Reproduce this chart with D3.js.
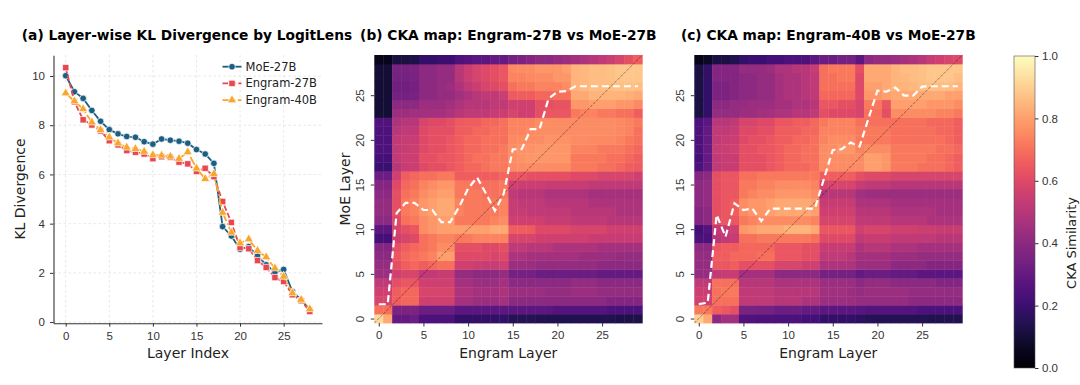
<!DOCTYPE html>
<html><head><meta charset="utf-8">
<script src="https://cdn.jsdelivr.net/npm/d3@7"></script>
<style>
body{margin:0;background:#fff;}
svg{font-family:"DejaVu Sans",sans-serif;}
.tick text{fill:#333;font-size:11.5px;}
.tick line,.domain{stroke:#333;}
</style></head><body>
<script>
// ---- panel (a): KL divergence per layer ----
var layerIdx=[0,1,2,3,4,5,6,7,8,9,10,11,12,13,14,15,16,17,18,19,20,21,22,23,24,25,26,27,28];
var klMoe27=[10.01,9.36,9.09,8.6,8.16,7.82,7.65,7.54,7.51,7.33,7.23,7.44,7.39,7.35,7.27,7.01,6.83,6.45,3.88,3.5,2.96,3.07,2.69,2.33,2.03,2.14,1.24,0.91,0.5];
var klEng27=[10.34,8.95,8.22,8.01,7.77,7.37,7.2,6.97,6.9,6.83,6.64,6.72,6.7,6.5,6.43,6.12,6.25,5.91,4.9,4.05,3.03,2.98,2.5,2.22,1.81,1.65,1.11,0.87,0.43];
var klEng40=[9.3,8.98,8.66,8.12,7.81,7.51,7.27,7.1,7.04,6.93,6.79,6.77,6.73,6.64,6.91,6.25,5.82,6.02,4.45,3.64,3.21,3.37,2.9,2.64,2.19,1.85,1.18,0.91,0.53];
var seriesNames=['MoE-27B','Engram-27B','Engram-40B'];
var klTicksX=[0,5,10,15,20,25];
var klTicksY=[0,2,4,6,8,10];
// ---- panels (b),(c): CKA maps in percent; row = MoE layer 0..29 (bottom->top), col = Engram layer 0..29 ----
var ckaEng27=[
[92,82,30,30,32,24,24,24,24,18,18,18,18,18,18,15,15,15,14,14,14,14,14,14,14,14,14,13,13,13],
[70,70,36,36,36,32,32,32,32,28,28,28,28,28,28,28,28,28,28,28,26,26,26,26,26,26,24,24,24,24],
[58,58,66,68,68,56,56,56,56,46,46,44,44,44,46,40,40,40,40,40,40,40,40,40,40,40,38,38,38,38],
[56,56,66,68,68,58,58,58,58,48,48,46,46,46,48,44,44,44,44,42,42,42,44,44,44,42,42,42,42,42],
[52,52,62,64,64,56,56,56,56,46,46,44,44,44,46,40,40,40,40,40,40,40,42,42,42,40,40,40,40,40],
[44,44,56,58,58,52,52,54,54,42,42,40,40,40,42,34,34,34,32,32,32,32,32,32,32,30,30,30,30,30],
[42,42,62,66,68,66,68,70,70,56,56,55,54,54,56,44,44,44,42,42,42,42,42,42,42,40,40,40,40,40],
[40,40,64,68,70,72,74,80,80,60,60,60,60,58,60,48,48,46,46,46,46,46,46,44,44,44,44,42,42,42],
[38,38,62,66,68,70,72,76,76,62,62,62,60,60,62,52,52,50,50,50,48,48,48,48,48,46,46,46,46,46],
[22,22,56,58,60,70,72,74,74,72,72,74,74,74,74,58,58,58,56,56,56,56,56,56,54,54,54,54,54,54],
[28,28,58,62,64,76,78,80,80,80,80,80,80,82,82,66,66,65,60,60,60,60,58,58,58,58,56,56,56,56],
[40,40,60,70,72,76,78,80,80,72,72,72,72,74,76,56,56,56,56,54,54,54,52,52,52,52,50,50,50,50],
[42,42,62,72,74,78,80,82,82,74,72,72,72,72,74,54,54,52,52,52,52,52,50,50,50,50,50,48,48,48],
[42,42,62,72,74,78,80,82,82,74,72,72,72,72,74,54,52,52,52,50,50,50,50,50,48,48,48,48,48,48],
[40,40,62,70,72,76,78,80,80,72,72,72,70,70,72,52,50,50,50,48,48,48,48,48,46,46,46,46,46,46],
[38,38,60,68,70,74,76,78,78,72,72,70,70,70,72,56,55,55,55,54,54,54,54,54,52,52,52,52,52,52],
[32,32,56,66,68,70,70,72,72,66,66,66,66,66,68,64,64,62,62,62,62,62,60,60,60,58,58,58,58,56],
[20,20,50,54,55,60,62,62,64,66,68,68,70,72,72,75,76,76,76,76,76,76,72,72,72,70,70,68,66,65],
[22,22,52,55,55,62,62,64,64,66,68,70,70,72,72,76,77,78,78,78,78,78,72,72,72,72,70,70,68,66],
[24,24,52,54,55,60,62,62,64,66,68,68,70,70,72,76,77,77,78,78,78,78,74,74,74,72,72,72,70,68],
[24,24,52,54,54,60,62,62,64,66,68,68,70,70,70,75,76,76,76,77,77,77,76,76,75,75,75,74,72,70],
[24,24,50,52,52,60,62,62,62,66,66,68,68,70,70,74,74,75,76,76,76,76,76,76,76,76,76,75,74,70],
[25,25,48,50,50,58,60,60,62,65,66,66,68,68,70,74,74,74,76,76,76,76,76,76,76,76,76,75,74,72],
[10,10,44,44,45,45,46,46,48,50,52,52,52,54,55,58,56,56,62,64,64,64,72,74,74,72,72,70,70,66],
[10,10,40,40,40,44,44,44,45,48,50,50,50,52,52,56,56,56,62,62,63,63,78,78,80,80,80,78,78,75],
[10,10,34,34,35,40,40,42,42,45,48,50,52,52,55,65,66,66,68,68,70,70,82,82,84,84,84,84,83,82],
[10,10,33,33,34,40,40,42,44,48,52,55,58,60,62,70,72,72,74,74,74,76,84,85,86,86,86,87,87,86],
[10,10,34,34,35,40,40,42,42,50,55,58,60,62,64,74,74,75,76,76,78,78,84,85,86,86,87,88,88,88],
[10,10,35,35,36,40,40,42,42,50,55,58,60,62,64,75,76,76,78,78,78,80,84,85,86,86,87,88,88,88],
[5,5,12,12,13,18,18,20,20,24,26,28,28,30,30,34,36,38,40,40,42,44,46,48,50,52,55,58,62,66]];
var ckaEng40=[
[90,82,40,45,45,25,25,24,24,24,24,24,22,22,18,18,18,18,17,16,15,15,15,15,15,15,14,14,14,14],
[72,72,66,64,62,35,35,34,34,32,32,32,30,30,28,28,28,28,27,26,26,26,26,26,26,24,24,24,24,24],
[56,56,70,70,70,52,52,52,52,50,50,50,48,48,44,44,44,44,42,42,42,42,42,42,40,40,40,40,40,40],
[55,55,70,72,72,52,52,52,52,50,50,50,50,50,45,45,45,44,42,44,44,44,44,44,42,42,42,42,42,42],
[52,52,70,70,70,50,50,50,50,48,48,48,48,48,44,44,44,44,40,42,42,42,40,40,40,40,40,38,38,38],
[42,42,52,54,54,46,46,46,46,40,40,40,40,40,34,34,34,34,30,32,32,32,30,30,30,28,28,28,28,28],
[42,42,64,64,66,62,62,62,62,58,58,58,56,56,48,48,48,48,44,44,44,44,40,40,40,40,38,38,38,38],
[42,42,66,66,68,68,68,70,70,64,64,64,62,62,52,52,52,50,46,46,46,46,44,44,44,42,42,42,42,42],
[40,40,64,66,66,68,68,68,68,64,64,64,62,62,54,54,54,54,48,50,50,50,48,48,48,46,46,46,46,46],
[24,24,50,52,54,70,70,72,72,72,72,72,72,70,60,60,60,60,52,54,54,54,52,52,52,52,52,50,50,50],
[22,26,52,54,56,78,80,82,82,82,84,84,84,82,64,64,64,64,56,58,58,58,56,56,56,55,55,54,54,54],
[38,40,62,64,64,72,74,76,76,76,76,76,76,74,58,58,58,58,52,52,52,52,50,50,50,50,48,48,48,48],
[38,40,62,64,66,76,78,78,80,82,82,82,82,80,56,56,56,56,50,50,50,50,48,48,48,48,48,46,46,46],
[40,42,62,64,66,76,78,78,80,82,82,82,82,80,54,54,54,54,48,48,48,48,46,46,46,46,46,46,46,46],
[40,42,62,64,64,72,74,76,76,78,78,78,78,76,50,50,50,50,45,44,44,44,44,44,44,44,44,44,44,44],
[40,42,62,64,64,72,72,74,74,76,76,76,76,74,58,58,58,58,54,52,52,52,50,50,50,50,50,50,50,50],
[38,40,62,64,64,70,70,72,72,72,72,72,72,72,66,66,66,66,62,60,60,60,58,58,58,58,58,58,58,58],
[24,30,52,54,54,62,62,62,64,66,68,68,68,70,76,76,76,76,76,80,80,78,72,72,72,70,70,70,68,66],
[22,30,52,54,54,62,62,62,64,66,68,68,70,70,76,76,76,76,76,80,80,78,72,72,72,72,70,70,68,66],
[24,30,54,55,56,62,62,64,64,66,68,68,70,70,76,76,78,78,74,76,76,76,72,72,72,72,72,70,70,68],
[24,30,52,54,55,60,62,62,64,66,66,68,68,70,74,76,76,76,72,72,72,72,70,70,70,70,70,70,68,66],
[24,30,52,52,54,60,60,62,62,66,66,66,68,68,74,74,74,74,72,72,72,72,70,70,70,70,70,68,68,66],
[24,28,50,50,52,58,58,60,60,64,64,66,66,68,72,74,74,74,70,70,70,70,70,70,70,70,68,68,68,66],
[12,18,42,42,42,44,44,45,46,48,48,50,50,52,62,60,60,60,58,70,70,62,76,76,76,76,76,74,74,72],
[12,18,40,40,42,42,44,44,44,46,46,48,48,50,64,64,62,62,58,72,72,64,80,80,80,80,78,78,78,76],
[12,18,36,36,38,40,40,42,42,46,48,48,50,52,68,68,68,68,60,78,78,80,82,82,82,82,82,82,80,80],
[12,18,36,36,38,40,40,42,42,46,48,48,50,52,70,70,70,70,60,80,80,82,84,84,85,86,86,86,86,84],
[12,18,38,38,38,40,40,42,42,46,48,48,50,52,70,70,72,72,60,82,82,82,84,85,86,87,88,88,88,86],
[12,18,38,38,38,42,42,42,44,48,48,50,50,54,70,72,72,72,62,82,82,82,84,86,86,87,88,88,88,88],
[5,7,12,12,14,18,20,20,22,22,24,24,24,28,32,32,34,34,28,40,42,42,44,46,48,50,54,56,58,60]];
// best-matching MoE layer for each Engram layer (white dashed path)
var pathEng27=[1.6,1.6,11.8,12.95,12.95,12.15,12.15,10.8,10.8,12.5,14.55,15.8,14.0,12.05,14.0,18.95,18.95,21.2,21.2,24.6,25.4,25.45,26,26,26,26,26,26,26,26];
var pathEng40=[1.62,1.77,11.6,9.16,12.9,12.15,12.3,10.9,12.3,12.3,12.3,12.3,12.3,12.3,15.6,18.87,18.95,19.7,19.25,22.4,25.5,25.4,25.85,24.95,24.95,25.96,26,26,26,26];
var ckaTicks=[0,5,10,15,20,25];
var cbarTicks=[0,0.2,0.4,0.6,0.8,1.0];

var wid=1080, hgh=385;
var svg=d3.select('body').append('svg').attr('width',wid).attr('height',hgh);

// ===== panel (a) =====
var ax=d3.scaleLinear().domain([-1.4,29.4]).range([53.5,322]);
var ay=d3.scaleLinear().domain([-0.045,10.845]).range([323.2,55.2]);
var ga=svg.append('g');
// grid
ga.selectAll('line.gx').data(klTicksX).enter().append('line')
  .attr('x1',d=>ax(d)).attr('x2',d=>ax(d)).attr('y1',55).attr('y2',323.2)
  .attr('stroke','#d6d6d6').attr('stroke-width',0.6).attr('stroke-dasharray','2.5,2.5');
ga.selectAll('line.gy').data(klTicksY).enter().append('line')
  .attr('x1',53.5).attr('x2',322).attr('y1',d=>ay(d)).attr('y2',d=>ay(d))
  .attr('stroke','#d6d6d6').attr('stroke-width',0.6).attr('stroke-dasharray','2.5,2.5');
ga.append('g').attr('transform','translate(0,323.2)')
  .call(d3.axisBottom(ax).tickValues(klTicksX).tickSize(3.5).tickPadding(5.5).tickSizeOuter(0));
ga.append('g').attr('transform','translate(53.5,0)')
  .call(d3.axisLeft(ay).tickValues(klTicksY).tickSize(3.5).tickPadding(5).tickSizeOuter(0));
ga.selectAll('.domain').attr('stroke-width',1.1);

var series=[
 {name:seriesNames[0],vals:klMoe27,color:'#1b5e84',dash:null,sym:d3.symbolCircle,size:34},
 {name:seriesNames[1],vals:klEng27,color:'#e8474f',dash:'5.5,2.4',sym:d3.symbolSquare,size:40},
 {name:seriesNames[2],vals:klEng40,color:'#f9a62c',dash:'9,2.4,1.5,2.4',sym:d3.symbolTriangle,size:36}];
var line=d3.line().x((d,i)=>ax(layerIdx[i])).y(d=>ay(d));
series.forEach(function(s){
 ga.append('path').attr('d',line(s.vals)).attr('fill','none').attr('stroke',s.color)
   .attr('stroke-width',1.8).attr('stroke-dasharray',s.dash);
 ga.selectAll(null).data(s.vals).enter().append('path')
   .attr('d',d3.symbol().type(s.sym).size(s.size))
   .attr('transform',(d,i)=>'translate('+ax(layerIdx[i])+','+ay(d)+')')
   .attr('fill',s.color).attr('stroke','#fff').attr('stroke-width',0.7);
});
// legend
series.forEach(function(s,i){
 var ly=66.7+i*16.7;
 ga.append('line').attr('x1',222.5).attr('x2',241.5).attr('y1',ly).attr('y2',ly)
   .attr('stroke',s.color).attr('stroke-width',1.8).attr('stroke-dasharray',s.dash);
 ga.append('path').attr('d',d3.symbol().type(s.sym).size(s.size)())
   .attr('transform','translate(232,'+ly+')').attr('fill',s.color).attr('stroke','#fff').attr('stroke-width',0.7);
 ga.append('text').attr('x',245.5).attr('y',ly+4).attr('font-size',11.5).attr('fill','#222').text(s.name);
});
ga.append('text').attr('x',188).attr('y',358).attr('text-anchor','middle').attr('font-size',14).attr('fill','#222').text('Layer Index');
ga.append('text').attr('transform','translate(25,189) rotate(-90)').attr('text-anchor','middle').attr('font-size',14).attr('fill','#222').text('KL Divergence');
ga.append('text').attr('x',187).attr('y',39.5).attr('text-anchor','middle').attr('font-size',13.75).attr('font-weight','bold').attr('fill','#000')
  .text('(a) Layer-wise KL Divergence by LogitLens');

// ===== panels (b),(c) =====
var color=d3.interpolateMagma;
function drawcka(x0,mat,path,title,showYLabel) {
 var g=svg.append('g');
 var hx=d3.scaleLinear().domain([-0.5,29.5]).range([x0,x0+268]);
 var hy=d3.scaleLinear().domain([-0.5,29.5]).range([323,55]);
 var cw=hx(1)-hx(0);
 mat.forEach(function(row,r){
  g.selectAll(null).data(row).enter().append('rect')
   .attr('x',(d,c)=>hx(c-0.5)).attr('y',hy(r+0.5)).attr('width',cw+0.4).attr('height',cw+0.4)
   .attr('fill',d=>color(d/100));
 });
 g.append('line').attr('x1',hx(-0.5)).attr('y1',hy(-0.5)).attr('x2',hx(29.5)).attr('y2',hy(29.5))
  .attr('stroke','#000').attr('stroke-opacity',0.5).attr('stroke-width',0.8).attr('stroke-dasharray','3,1.3');
 g.append('path').attr('d',d3.line().x((d,i)=>hx(i)).y(d=>hy(d))(path))
  .attr('fill','none').attr('stroke','#fff').attr('stroke-width',2.2).attr('stroke-dasharray','7,4');
 var xa=g.append('g').attr('transform','translate(0,323)')
  .call(d3.axisBottom(hx).tickValues(ckaTicks).tickSize(3.5).tickPadding(4.5).tickSizeOuter(0));
 xa.select('.domain').remove();
 var ya=g.append('g').attr('transform','translate('+x0+',0)')
  .call(d3.axisLeft(hy).tickValues(ckaTicks).tickSize(3.5).tickSizeOuter(0));
 ya.select('.domain').remove();
 ya.selectAll('text').attr('transform','rotate(-90)').attr('x',0).attr('y',-10).attr('dy',0).attr('text-anchor','middle');
 g.append('text').attr('x',x0+134).attr('y',357.5).attr('text-anchor','middle').attr('font-size',14).attr('fill','#222').text('Engram Layer');
 if (showYLabel) g.append('text').attr('transform','translate('+(x0-24)+',189) rotate(-90)').attr('text-anchor','middle')
   .attr('font-size',14).attr('fill','#222').text('MoE Layer');
 g.append('text').attr('x',x0+134).attr('y',39.5).attr('text-anchor','middle').attr('font-size',13.75).attr('font-weight','bold').attr('fill','#000').text(title);
}
drawcka(374.3,ckaEng27,pathEng27,'(b) CKA map: Engram-27B vs MoE-27B',true);
drawcka(694.3,ckaEng40,pathEng40,'(c) CKA map: Engram-40B vs MoE-27B',false);

// ===== colorbar =====
var grad=svg.append('defs').append('linearGradient').attr('id','cbar')
  .attr('x1',0).attr('y1',1).attr('x2',0).attr('y2',0);
grad.selectAll('stop').data(d3.range(0,1.0001,0.05)).enter().append('stop')
  .attr('offset',d=>d).attr('stop-color',d=>color(d));
svg.append('rect').attr('x',1014).attr('y',56).attr('width',21).attr('height',312)
  .attr('fill','url(#cbar)').attr('stroke','#555').attr('stroke-width',0.6);
var cy=d3.scaleLinear().domain([0,1]).range([368,56]);
var ca=svg.append('g').attr('transform','translate(1035,0)')
  .call(d3.axisRight(cy).tickValues(cbarTicks).tickFormat(d3.format('.1f')).tickSize(3.5).tickPadding(3.5));
ca.select('.domain').remove();
svg.append('text').attr('transform','translate(1075.5,243) rotate(-90)').attr('text-anchor','middle')
  .attr('font-size',13).attr('fill','#222').text('CKA Similarity');
</script></body></html>
